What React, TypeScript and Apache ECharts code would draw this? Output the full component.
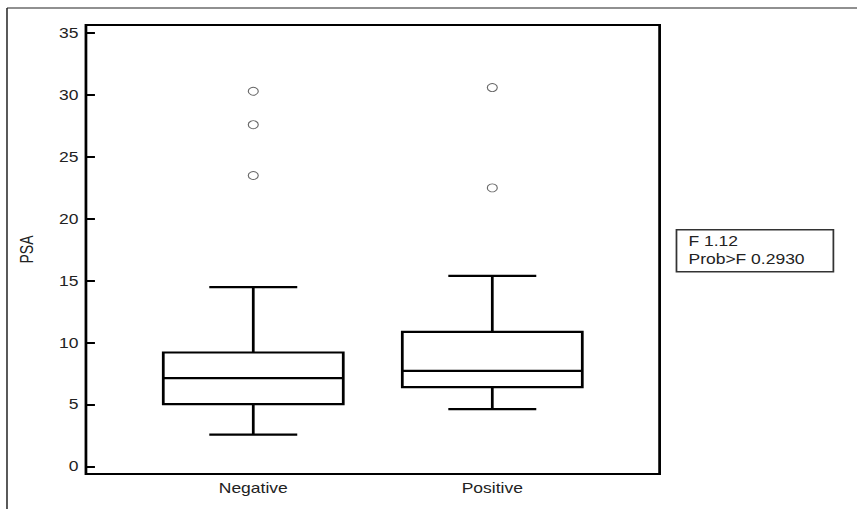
import React, { useEffect, useRef } from "react";
import * as echarts from "echarts";

// Groups and summary statistics for PSA
const categories = ["Negative", "Positive"];
const whiskerLow = [2.58, 4.63];
const quartile1 = [5.04, 6.41];
const median = [7.14, 7.73];
const quartile3 = [9.21, 10.88];
const whiskerHigh = [14.49, 15.4];
const negativeOutliers = [30.3, 27.6, 23.5];
const positiveOutliers = [30.6, 22.5];
const yTicks = [0, 5, 10, 15, 20, 25, 30, 35];
const statLines = ["F 1.12", "Prob>F 0.2930"];

// The figure is rendered narrow and widened horizontally as a whole
const PAGE_W = 857;
const PAGE_H = 509;
const INNER_W = 686;
const SX = PAGE_W / INNER_W;

const FONT = "'Liberation Sans', Arial, Helvetica, sans-serif";
const TEXT = "#222";

export default function App() {
  const ref = useRef<HTMLDivElement>(null);

  useEffect(() => {
    if (!ref.current) return;
    const chart = echarts.init(ref.current, undefined, { renderer: "svg" });

    const boxData = categories.map((_, i) => [
      i,
      whiskerLow[i],
      quartile1[i],
      median[i],
      quartile3[i],
      whiskerHigh[i],
    ]);
    const outlierData = [
      ...negativeOutliers.map((v) => [0, v]),
      ...positiveOutliers.map((v) => [1, v]),
    ];

    chart.setOption({
      animation: false,
      backgroundColor: "#fff",
      textStyle: { fontFamily: FONT },
      grid: {
        left: 68.8,
        right: INNER_W - 528,
        top: 25,
        bottom: 35,
        show: true,
        borderColor: "#000",
        borderWidth: 2.2,
        backgroundColor: "transparent",
        outerBoundsMode: "none",
      },
      xAxis: {
        type: "value",
        min: -0.7,
        max: 1.7,
        axisLine: { show: false, onZero: false },
        axisTick: { show: false },
        splitLine: { show: false },
        axisLabel: {
          customValues: categories.map((_, i) => i),
          formatter: (v: number) => categories[Math.round(v)] ?? "",
          margin: 7,
          fontSize: 14,
          color: TEXT,
          fontFamily: FONT,
        },
      },
      yAxis: {
        type: "value",
        min: -0.6,
        max: 35.65,
        name: "PSA",
        nameLocation: "middle",
        nameRotate: 90,
        nameGap: 40,
        nameTextStyle: { fontSize: 14, color: TEXT, fontFamily: FONT },
        axisLine: { show: false, onZero: false },
        splitLine: { show: false },
        axisTick: {
          show: true,
          inside: true,
          length: 7.2,
          customValues: yTicks,
          lineStyle: { color: "#000", width: 2 },
        },
        axisLabel: {
          customValues: yTicks,
          margin: 6,
          fontSize: 14,
          color: TEXT,
          fontFamily: FONT,
        },
      },
      series: [
        {
          type: "custom",
          data: boxData,
          encode: { x: 0, y: [1, 2, 3, 4, 5] },
          renderItem: (_params: any, api: any) => {
            const x = api.value(0);
            const lo = api.coord([x, api.value(1)]);
            const q1 = api.coord([x, api.value(2)]);
            const med = api.coord([x, api.value(3)]);
            const q3 = api.coord([x, api.value(4)]);
            const hi = api.coord([x, api.value(5)]);
            const unit = api.size([1, 0])[0];
            const bw = (unit * 0.753) / 2;
            const cw = (unit * 0.368) / 2;
            const cx = med[0];
            const style = { stroke: "#000", lineWidth: 2.2, fill: "none" };
            return {
              type: "group",
              children: [
                { type: "line", shape: { x1: cx, y1: q3[1], x2: cx, y2: hi[1] }, style },
                { type: "line", shape: { x1: cx, y1: q1[1], x2: cx, y2: lo[1] }, style },
                { type: "line", shape: { x1: cx - cw, y1: hi[1], x2: cx + cw, y2: hi[1] }, style },
                { type: "line", shape: { x1: cx - cw, y1: lo[1], x2: cx + cw, y2: lo[1] }, style },
                {
                  type: "rect",
                  shape: { x: cx - bw, y: q3[1], width: 2 * bw, height: q1[1] - q3[1] },
                  style: { ...style, fill: "#fff" },
                },
                { type: "line", shape: { x1: cx - bw, y1: med[1], x2: cx + bw, y2: med[1] }, style },
              ],
            };
          },
        },
        {
          type: "scatter",
          data: outlierData,
          symbol: "circle",
          symbolSize: 8,
          itemStyle: { color: "#fff", borderColor: "#666", borderWidth: 0.9, opacity: 1 },
        },
      ],
      graphic: [
        // page frame
        {
          type: "line",
          shape: { x1: 5.6, y1: 8, x2: INNER_W, y2: 8 },
          style: { stroke: "#222", lineWidth: 1.2 },
        },
        {
          type: "line",
          shape: { x1: 5.6, y1: 8, x2: 5.6, y2: PAGE_H },
          style: { stroke: "#222", lineWidth: 1.2 },
        },
        // ANOVA statistics box
        {
          type: "group",
          left: 540.8,
          top: 229,
          children: [
            {
              type: "rect",
              shape: { x: 0, y: 0, width: 125.6, height: 42 },
              style: { fill: "#fff", stroke: "#333", lineWidth: 1.4 },
            },
            {
              type: "text",
              x: 9.6,
              y: 3,
              style: {
                text: statLines.join("\n"),
                fontSize: 14,
                lineHeight: 17.6,
                fill: TEXT,
                fontFamily: FONT,
              },
            },
          ],
        },
      ],
    });

    return () => chart.dispose();
  }, []);

  return (
    <div
      style={{
        position: "absolute",
        left: 0,
        top: 0,
        width: PAGE_W,
        height: PAGE_H,
        overflow: "hidden",
        background: "#fff",
      }}
    >
      <div
        ref={ref}
        style={{
          width: INNER_W,
          height: PAGE_H,
          transform: `scaleX(${SX})`,
          transformOrigin: "0 0",
        }}
      />
    </div>
  );
}
